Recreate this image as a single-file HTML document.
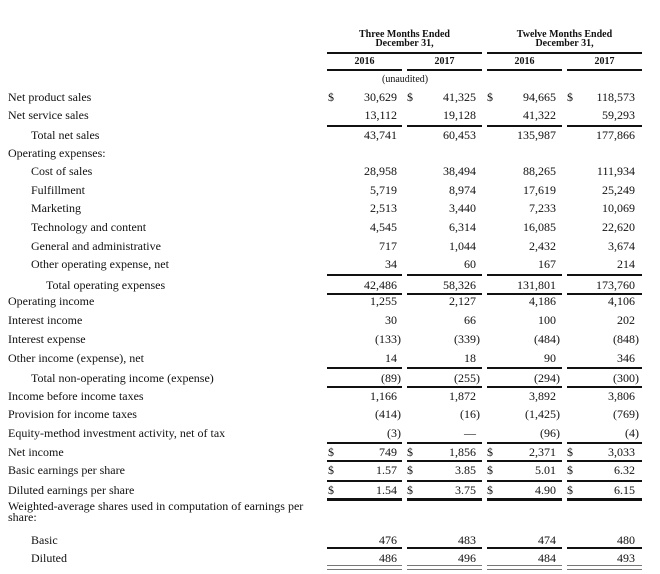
<!DOCTYPE html>
<html><head><meta charset="utf-8"><style>
body{margin:0;background:#fff;}
#p{position:relative;width:660px;height:574px;overflow:hidden;font-family:"Liberation Serif",serif;color:#111;font-size:12px;}
.l,.n,.d{position:absolute;line-height:14px;white-space:nowrap;}
.n{text-align:right;}
.r{position:absolute;height:2px;background:#111;}
.g{position:absolute;height:3px;border-top:1px solid #777;border-bottom:1px solid #777;background:#fff;}
.h{position:absolute;font-weight:bold;font-size:10px;line-height:9px;text-align:center;}
</style></head><body><div id="p">
<div class="h" style="left:327px;width:155px;top:30px">Three Months Ended<br>December 31,</div>
<div class="h" style="left:487px;width:155px;top:30px">Twelve Months Ended<br>December 31,</div>
<div class="r" style="left:327px;width:155px;top:52px"></div><div class="r" style="left:487px;width:155px;top:52px"></div>
<div class="h" style="left:327px;width:75px;top:57px">2016</div><div class="h" style="left:407px;width:75px;top:57px">2017</div>
<div class="h" style="left:487px;width:75px;top:57px">2016</div><div class="h" style="left:567px;width:75px;top:57px">2017</div>
<div class="l" style="left:382px;top:73px;font-size:10px">(unaudited)</div>

<div class="l" style="left:8px;top:90px">Net product sales</div>
<div class="l" style="left:8px;top:108px">Net service sales</div>
<div class="l" style="left:31px;top:128px">Total net sales</div>
<div class="l" style="left:8px;top:146px">Operating expenses:</div>
<div class="l" style="left:31px;top:164px">Cost of sales</div>
<div class="l" style="left:31px;top:183px">Fulfillment</div>
<div class="l" style="left:31px;top:201px">Marketing</div>
<div class="l" style="left:31px;top:220px">Technology and content</div>
<div class="l" style="left:31px;top:239px">General and administrative</div>
<div class="l" style="left:31px;top:257px">Other operating expense, net</div>
<div class="l" style="left:46px;top:278px">Total operating expenses</div>
<div class="l" style="left:8px;top:294px">Operating income</div>
<div class="l" style="left:8px;top:313px">Interest income</div>
<div class="l" style="left:8px;top:332px">Interest expense</div>
<div class="l" style="left:8px;top:351px">Other income (expense), net</div>
<div class="l" style="left:31px;top:371px">Total non-operating income (expense)</div>
<div class="l" style="left:8px;top:389px">Income before income taxes</div>
<div class="l" style="left:8px;top:407px">Provision for income taxes</div>
<div class="l" style="left:8px;top:426px">Equity-method investment activity, net of tax</div>
<div class="l" style="left:8px;top:445px">Net income</div>
<div class="l" style="left:8px;top:463px">Basic earnings per share</div>
<div class="l" style="left:8px;top:483px">Diluted earnings per share</div>
<div class="l" style="left:8px;top:501px;line-height:11px">Weighted-average shares used in computation of earnings per<br>share:</div>
<div class="l" style="left:31px;top:533px">Basic</div>
<div class="l" style="left:31px;top:551px">Diluted</div>

<!-- dollar signs -->
<div class="l" style="left:328px;top:90px">$</div><div class="l" style="left:407px;top:90px">$</div><div class="l" style="left:487px;top:90px">$</div><div class="l" style="left:567px;top:90px">$</div>
<div class="l" style="left:328px;top:445px">$</div><div class="l" style="left:407px;top:445px">$</div><div class="l" style="left:487px;top:445px">$</div><div class="l" style="left:567px;top:445px">$</div>
<div class="l" style="left:328px;top:463px">$</div><div class="l" style="left:407px;top:463px">$</div><div class="l" style="left:487px;top:463px">$</div><div class="l" style="left:567px;top:463px">$</div>
<div class="l" style="left:328px;top:483px">$</div><div class="l" style="left:407px;top:483px">$</div><div class="l" style="left:487px;top:483px">$</div><div class="l" style="left:567px;top:483px">$</div>

<!-- values: rights 263,184,104,25 ; parens -4 -->
<div class="n" style="right:263px;top:90px">30,629</div><div class="n" style="right:184px;top:90px">41,325</div><div class="n" style="right:104px;top:90px">94,665</div><div class="n" style="right:25px;top:90px">118,573</div>
<div class="n" style="right:263px;top:108px">13,112</div><div class="n" style="right:184px;top:108px">19,128</div><div class="n" style="right:104px;top:108px">41,322</div><div class="n" style="right:25px;top:108px">59,293</div>
<div class="n" style="right:263px;top:128px">43,741</div><div class="n" style="right:184px;top:128px">60,453</div><div class="n" style="right:104px;top:128px">135,987</div><div class="n" style="right:25px;top:128px">177,866</div>
<div class="n" style="right:263px;top:164px">28,958</div><div class="n" style="right:184px;top:164px">38,494</div><div class="n" style="right:104px;top:164px">88,265</div><div class="n" style="right:25px;top:164px">111,934</div>
<div class="n" style="right:263px;top:183px">5,719</div><div class="n" style="right:184px;top:183px">8,974</div><div class="n" style="right:104px;top:183px">17,619</div><div class="n" style="right:25px;top:183px">25,249</div>
<div class="n" style="right:263px;top:201px">2,513</div><div class="n" style="right:184px;top:201px">3,440</div><div class="n" style="right:104px;top:201px">7,233</div><div class="n" style="right:25px;top:201px">10,069</div>
<div class="n" style="right:263px;top:220px">4,545</div><div class="n" style="right:184px;top:220px">6,314</div><div class="n" style="right:104px;top:220px">16,085</div><div class="n" style="right:25px;top:220px">22,620</div>
<div class="n" style="right:263px;top:239px">717</div><div class="n" style="right:184px;top:239px">1,044</div><div class="n" style="right:104px;top:239px">2,432</div><div class="n" style="right:25px;top:239px">3,674</div>
<div class="n" style="right:263px;top:257px">34</div><div class="n" style="right:184px;top:257px">60</div><div class="n" style="right:104px;top:257px">167</div><div class="n" style="right:25px;top:257px">214</div>
<div class="n" style="right:263px;top:278px">42,486</div><div class="n" style="right:184px;top:278px">58,326</div><div class="n" style="right:104px;top:278px">131,801</div><div class="n" style="right:25px;top:278px">173,760</div>
<div class="n" style="right:263px;top:294px">1,255</div><div class="n" style="right:184px;top:294px">2,127</div><div class="n" style="right:104px;top:294px">4,186</div><div class="n" style="right:25px;top:294px">4,106</div>
<div class="n" style="right:263px;top:313px">30</div><div class="n" style="right:184px;top:313px">66</div><div class="n" style="right:104px;top:313px">100</div><div class="n" style="right:25px;top:313px">202</div>
<div class="n" style="right:259px;top:332px">(133)</div><div class="n" style="right:180px;top:332px">(339)</div><div class="n" style="right:100px;top:332px">(484)</div><div class="n" style="right:21px;top:332px">(848)</div>
<div class="n" style="right:263px;top:351px">14</div><div class="n" style="right:184px;top:351px">18</div><div class="n" style="right:104px;top:351px">90</div><div class="n" style="right:25px;top:351px">346</div>
<div class="n" style="right:259px;top:371px">(89)</div><div class="n" style="right:180px;top:371px">(255)</div><div class="n" style="right:100px;top:371px">(294)</div><div class="n" style="right:21px;top:371px">(300)</div>
<div class="n" style="right:263px;top:389px">1,166</div><div class="n" style="right:184px;top:389px">1,872</div><div class="n" style="right:104px;top:389px">3,892</div><div class="n" style="right:25px;top:389px">3,806</div>
<div class="n" style="right:259px;top:407px">(414)</div><div class="n" style="right:180px;top:407px">(16)</div><div class="n" style="right:100px;top:407px">(1,425)</div><div class="n" style="right:21px;top:407px">(769)</div>
<div class="n" style="right:259px;top:426px">(3)</div><div class="n" style="right:184px;top:426px">—</div><div class="n" style="right:100px;top:426px">(96)</div><div class="n" style="right:21px;top:426px">(4)</div>
<div class="n" style="right:263px;top:445px">749</div><div class="n" style="right:184px;top:445px">1,856</div><div class="n" style="right:104px;top:445px">2,371</div><div class="n" style="right:25px;top:445px">3,033</div>
<div class="n" style="right:263px;top:463px">1.57</div><div class="n" style="right:184px;top:463px">3.85</div><div class="n" style="right:104px;top:463px">5.01</div><div class="n" style="right:25px;top:463px">6.32</div>
<div class="n" style="right:263px;top:483px">1.54</div><div class="n" style="right:184px;top:483px">3.75</div><div class="n" style="right:104px;top:483px">4.90</div><div class="n" style="right:25px;top:483px">6.15</div>
<div class="n" style="right:263px;top:533px">476</div><div class="n" style="right:184px;top:533px">483</div><div class="n" style="right:104px;top:533px">474</div><div class="n" style="right:25px;top:533px">480</div>
<div class="n" style="right:263px;top:551px">486</div><div class="n" style="right:184px;top:551px">496</div><div class="n" style="right:104px;top:551px">484</div><div class="n" style="right:25px;top:551px">493</div>

<!-- rules -->
<div class="r" style="left:327px;width:75px;top:69px"></div><div class="r" style="left:407px;width:75px;top:69px"></div><div class="r" style="left:487px;width:75px;top:69px"></div><div class="r" style="left:567px;width:75px;top:69px"></div>
<div class="r" style="left:327px;width:75px;top:125px"></div><div class="r" style="left:407px;width:75px;top:125px"></div><div class="r" style="left:487px;width:75px;top:125px"></div><div class="r" style="left:567px;width:75px;top:125px"></div>
<div class="r" style="left:327px;width:75px;top:274px"></div><div class="r" style="left:407px;width:75px;top:274px"></div><div class="r" style="left:487px;width:75px;top:274px"></div><div class="r" style="left:567px;width:75px;top:274px"></div>
<div class="r" style="left:327px;width:75px;top:293px"></div><div class="r" style="left:407px;width:75px;top:293px"></div><div class="r" style="left:487px;width:75px;top:293px"></div><div class="r" style="left:567px;width:75px;top:293px"></div>
<div class="r" style="left:327px;width:75px;top:367px"></div><div class="r" style="left:407px;width:75px;top:367px"></div><div class="r" style="left:487px;width:75px;top:367px"></div><div class="r" style="left:567px;width:75px;top:367px"></div>
<div class="r" style="left:327px;width:75px;top:386px"></div><div class="r" style="left:407px;width:75px;top:386px"></div><div class="r" style="left:487px;width:75px;top:386px"></div><div class="r" style="left:567px;width:75px;top:386px"></div>
<div class="r" style="left:327px;width:75px;top:442px"></div><div class="r" style="left:407px;width:75px;top:442px"></div><div class="r" style="left:487px;width:75px;top:442px"></div><div class="r" style="left:567px;width:75px;top:442px"></div>
<div class="r" style="left:327px;width:75px;top:460px"></div><div class="r" style="left:407px;width:75px;top:460px"></div><div class="r" style="left:487px;width:75px;top:460px"></div><div class="r" style="left:567px;width:75px;top:460px"></div>
<div class="r" style="left:327px;width:75px;top:480px"></div><div class="r" style="left:407px;width:75px;top:480px"></div><div class="r" style="left:487px;width:75px;top:480px"></div><div class="r" style="left:567px;width:75px;top:480px"></div>
<div class="r" style="left:327px;width:75px;top:498px;height:3px"></div><div class="r" style="left:407px;width:75px;top:498px;height:3px"></div><div class="r" style="left:487px;width:75px;top:498px;height:3px"></div><div class="r" style="left:567px;width:75px;top:498px;height:3px"></div>
<div class="r" style="left:327px;width:75px;top:547px"></div><div class="r" style="left:407px;width:75px;top:547px"></div><div class="r" style="left:487px;width:75px;top:547px"></div><div class="r" style="left:567px;width:75px;top:547px"></div>
<div class="g" style="left:327px;width:75px;top:565px"></div><div class="g" style="left:407px;width:75px;top:565px"></div><div class="g" style="left:487px;width:75px;top:565px"></div><div class="g" style="left:567px;width:75px;top:565px"></div>
</div></body></html>
